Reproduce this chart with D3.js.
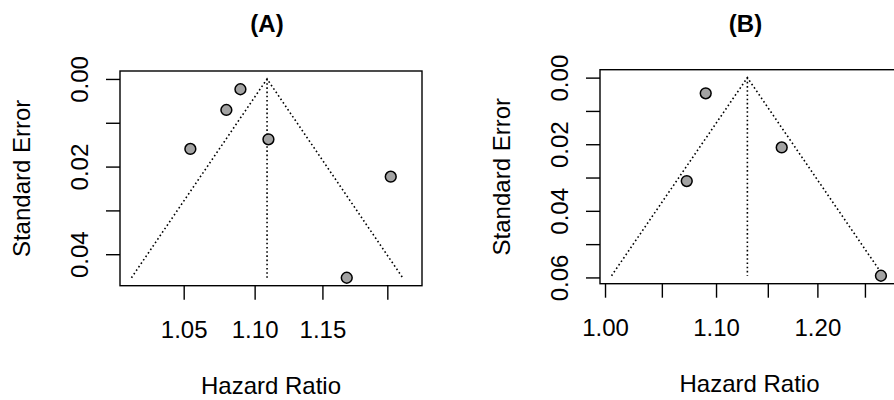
<!DOCTYPE html>
<html lang="en">
<head>
  <meta charset="UTF-8" />
  <title>funnel plots</title>
  <script src="https://d3js.org/d3.v7.min.js" charset="utf-8"></script>
  <style>
    body { margin: 0; background: #fff; }
    text { font-family: "Liberation Sans", Arial, sans-serif; fill: #000; }
    .dot { fill: #a3a3a3; stroke: #000; stroke-width: 1.5; }
    .funnel { fill: none; stroke: #000; stroke-width: 1.6; stroke-dasharray: 1.6,2.6; }
  </style>
</head>
<body>
<script type="text/javascript">

const WIDTH = 894;
const HEIGHT = 400;

// Panel A
const hrA = [1.0898, 1.0798, 1.110, 1.0546, 1.2027, 1.1685];
const seA = [0.00235, 0.00708, 0.01377, 0.01598, 0.0223, 0.04537];
const pooledA = 1.109;
const xTicksA = [1.05, 1.10, 1.15, 1.20];
const xLabelsA = ["1.05", "1.10", "1.15", ""];
const yTicksA = [0, 0.01, 0.02, 0.03, 0.04];
const yLabelsA = ["0.00", "", "0.02", "", "0.04"];

// Panel B
const hrB = [1.0903, 1.1638, 1.0727, 1.2673];
const seB = [0.0047, 0.02096, 0.03105, 0.0595];
const pooledB = 1.13;
const xTicksB = [1.00, 1.05, 1.10, 1.15, 1.20, 1.25];
const xLabelsB = ["1.00", "", "1.10", "", "1.20", ""];
const yTicksB = [0, 0.01, 0.02, 0.03, 0.04, 0.05, 0.06];
const yLabelsB = ["0.00", "", "0.02", "", "0.04", "", "0.06"];

const titles = ["(A)", "(B)"];
const xTitle = "Hazard Ratio";
const yTitle = "Standard Error";

const FS = 24;

var svg = d3.select("body")
    .append("svg")
        .attr("width", WIDTH)
        .attr("height", HEIGHT);

function funnel(opt) {
    var w = opt.right - opt.left;
    var h = opt.bottom - opt.top;
    var g = svg.append("g")
        .attr("transform", `translate(${opt.left}, ${opt.top})`);

    var x = d3.scaleLog().domain(opt.xDomain).range([0, w]);
    var seMax = d3.max(opt.se);
    var pad = 0.04 * seMax;
    var y = d3.scaleLinear().domain([-pad, seMax + pad]).range([0, h]);

    // axes
    g.append("g")
        .attr("transform", `translate(0, ${h})`)
        .call(d3.axisBottom(x).tickValues(opt.xTicks).tickSize(14).tickSizeOuter(0)
            .tickFormat((d, i) => opt.xLabels[i]))
        .call(g => g.select(".domain").remove())
        .call(g => g.selectAll(".tick line").attr("stroke", "#000").attr("stroke-width", 1.4))
        .call(g => g.selectAll(".tick text")
            .attr("y", 52).attr("dy", 0)
            .attr("font-size", FS).attr("font-family", null));

    g.append("g")
        .call(d3.axisLeft(y).tickValues(opt.yTicks).tickSize(14).tickSizeOuter(0)
            .tickFormat((d, i) => opt.yLabels[i]))
        .call(g => g.select(".domain").remove())
        .call(g => g.selectAll(".tick line").attr("stroke", "#000").attr("stroke-width", 1.4))
        .call(g => g.selectAll(".tick text")
            .attr("transform", "rotate(-90)")
            .attr("x", 0).attr("y", -32).attr("dy", 0)
            .attr("text-anchor", "middle")
            .attr("font-size", FS).attr("font-family", null));

    // box
    g.append("rect")
        .attr("width", w).attr("height", h)
        .attr("fill", "none").attr("stroke", "#000").attr("stroke-width", 1.4);

    // funnel: 95% limits around pooled estimate
    var z = 1.96;
    var tri = [
        [opt.pooled * Math.exp(-z * seMax), seMax],
        [opt.pooled, 0],
        [opt.pooled * Math.exp(z * seMax), seMax]
    ];
    var line = d3.line().x(d => x(d[0])).y(d => y(d[1]));
    g.append("path").attr("class", "funnel").attr("d", line(tri));
    g.append("path").attr("class", "funnel")
        .attr("d", line([[opt.pooled, 0], [opt.pooled, seMax]]));

    g.selectAll(".dot")
        .data(opt.hr.map((v, i) => [v, opt.se[i]]))
        .enter().append("circle")
            .attr("class", "dot")
            .attr("cx", d => x(d[0]))
            .attr("cy", d => y(d[1]))
            .attr("r", 5.4);

    // labels
    g.append("text")
        .attr("x", w / 2 - 4).attr("y", 32 - opt.top)
        .attr("text-anchor", "middle")
        .attr("font-size", FS).attr("font-weight", "bold")
        .attr("fill", "#222")
        .text(opt.title);
    g.append("text")
        .attr("x", w / 2).attr("y", h + 108)
        .attr("text-anchor", "middle")
        .attr("font-size", FS)
        .text(xTitle);
    g.append("text")
        .attr("transform", `translate(-90, ${h / 2}) rotate(-90)`)
        .attr("text-anchor", "middle")
        .attr("font-size", FS)
        .text(yTitle);
}

funnel({
    left: 120, right: 422, top: 71, bottom: 285.7,
    xDomain: [1.00705, 1.2276],
    hr: hrA, se: seA, pooled: pooledA,
    xTicks: xTicksA, xLabels: xLabelsA,
    yTicks: yTicksA, yLabels: yLabelsA,
    title: titles[0]
});

funnel({
    left: 600, right: 899, top: 69.7, bottom: 283.7,
    xDomain: [0.9957, 1.2871],
    hr: hrB, se: seB, pooled: pooledB,
    xTicks: xTicksB, xLabels: xLabelsB,
    yTicks: yTicksB, yLabels: yLabelsB,
    title: titles[1]
});

</script>
</body>
</html>
